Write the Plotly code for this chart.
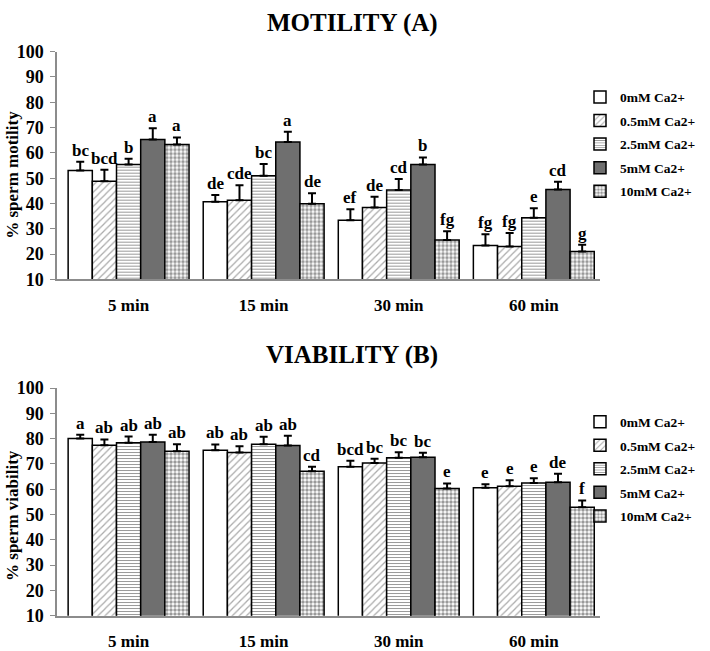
import plotly.graph_objects as go

times = ["5 min", "15 min", "30 min", "60 min"]
groups = ["0mM Ca2+", "0.5mM Ca2+", "2.5mM Ca2+", "5mM Ca2+", "10mM Ca2+"]

# Motility (A): rows = Ca2+ level, columns = time
mot_vals = [
    [53.1, 40.7, 33.4, 23.4],
    [48.8, 41.3, 38.4, 23.0],
    [55.4, 51.0, 45.3, 34.4],
    [65.3, 64.3, 55.4, 45.5],
    [63.3, 39.9, 25.6, 21.0],
]
mot_err = [
    [3.4, 2.7, 4.3, 4.5],
    [4.5, 5.9, 4.3, 5.4],
    [2.3, 4.6, 4.4, 3.7],
    [4.4, 4.1, 2.8, 3.1],
    [2.8, 4.2, 3.4, 2.7],
]
mot_letters = [
    ["bc", "de", "ef", "fg"],
    ["bcd", "cde", "de", "fg"],
    ["b", "bc", "cd", "e"],
    ["a", "a", "b", "cd"],
    ["a", "de", "fg", "g"],
]

# Viability (B)
via_vals = [
    [80.1, 75.4, 68.9, 60.6],
    [77.4, 74.5, 70.4, 61.2],
    [78.4, 77.8, 72.4, 62.5],
    [78.7, 77.3, 72.6, 62.8],
    [75.0, 67.1, 60.3, 52.9],
]
via_err = [
    [1.4, 2.3, 2.4, 1.4],
    [2.3, 2.5, 1.7, 2.4],
    [2.4, 2.9, 2.2, 1.8],
    [2.8, 3.8, 1.8, 3.3],
    [2.8, 1.8, 2.0, 2.7],
]
via_letters = [
    ["a", "ab", "bcd", "e"],
    ["ab", "ab", "bc", "e"],
    ["ab", "ab", "bc", "e"],
    ["ab", "ab", "bc", "de"],
    ["ab", "cd", "e", "f"],
]

y_ticks = [10, 20, 30, 40, 50, 60, 70, 80, 90, 100]

FONT = "Liberation Serif"
fills = ["white", "white", "white", "#6f6f6f", "white"]
patterns = [
    dict(shape=""),
    dict(shape="/", fgcolor="#555555", bgcolor="white", size=5, solidity=0.25),
    dict(shape="-", fgcolor="#333333", bgcolor="white", size=3, solidity=0.35),
    dict(shape=""),
    dict(shape=".", fgcolor="#333333", bgcolor="white", size=4, solidity=0.6),
]

W, H = 710, 651
bargap = 0.105
bw = (1 - bargap) / len(groups)


def px_x(p):
    return p / W


def px_y(p):
    return 1 - p / H


fig = go.Figure()
xs = list(range(len(times)))

panels = [
    (mot_vals, mot_err, mot_letters, "x", "y", "legend", "A"),
    (via_vals, via_err, via_letters, "x2", "y2", "legend2", "B"),
]
for vals, errs, letters, xa, ya, lg, tag in panels:
    for i, g in enumerate(groups):
        fig.add_trace(go.Bar(
            x=xs, y=vals[i], name=g, xaxis=xa, yaxis=ya, legend=lg,
            legendgroup=f"{tag}{i}",
            marker=dict(color=fills[i], pattern=patterns[i],
                        line=dict(color="black", width=1.5)),
            error_y=dict(type="data", array=errs[i], arrayminus=[0] * len(xs),
                         symmetric=False, color="black", thickness=2, width=4),
            width=bw,
        ))
        for j in xs:
            fig.add_annotation(
                x=j + (i - 2) * bw, y=vals[i][j] + errs[i][j], xref=xa, yref=ya,
                text=letters[i][j], showarrow=False, yanchor="bottom", yshift=0,
                font=dict(family=FONT, size=17, color="black", weight="bold"),
            )

axis_common = dict(
    showgrid=False, zeroline=False, showline=True, linecolor="#8c8c8c", linewidth=1.5,
)
xax = dict(axis_common, tickmode="array", tickvals=xs, ticktext=times,
           range=[-0.53, 3.49], ticks="", ticklen=0, ticklabelstandoff=9,
           tickfont=dict(family=FONT, size=17, color="black", weight="bold"),
           domain=[px_x(57), px_x(600)])
yax = dict(axis_common, range=[10, 100], tickvals=y_ticks, ticks="outside",
           ticklen=5, tickcolor="#8c8c8c", tickwidth=1, ticklabelstandoff=3,
           tickfont=dict(family=FONT, size=18, color="black", weight="bold"))

legend_font = dict(family=FONT, size=13.5, color="black", weight="bold")
legend_common = dict(xanchor="left", yanchor="top", font=legend_font,
                     bgcolor="rgba(0,0,0,0)", itemwidth=30, traceorder="grouped",
                     tracegroupgap=3)
fig.update_layout(
    width=W, height=H, margin=dict(l=0, r=0, t=0, b=0),
    paper_bgcolor="white", plot_bgcolor="white",
    barmode="group", bargap=bargap, bargroupgap=0,
    showlegend=True,
    xaxis=dict(xax, anchor="y"),
    yaxis=dict(yax, anchor="x", domain=[px_y(278), px_y(43)]),
    xaxis2=dict(xax, anchor="y2"),
    yaxis2=dict(yax, anchor="x2", domain=[px_y(625), px_y(390)]),
    legend=dict(legend_common, x=px_x(580), y=px_y(74)),
    legend2=dict(legend_common, x=px_x(580), y=px_y(409)),
)

# Panel titles and y-axis titles
for txt, yp in [("MOTILITY (A)", 13), ("VIABILITY (B)", 356)]:
    fig.add_annotation(text=txt, x=px_x(352), y=px_y(yp), xref="paper", yref="paper",
                       showarrow=False, xanchor="center", yanchor="middle",
                       font=dict(family=FONT, size=25, color="black", weight="bold"))
for txt, yp in [("% sperm motility", 170), ("% sperm viability", 522)]:
    fig.add_annotation(text=txt, x=px_x(13), y=px_y(yp), xref="paper", yref="paper",
                       showarrow=False, textangle=-90, xanchor="center", yanchor="middle",
                       font=dict(family=FONT, size=17, color="black", weight="bold"))

# remove the page's default body margin so the 710x651 figure fills the window
fig.write_html(
    "out.html",
    config={"displayModeBar": False},
    post_script="document.body.style.margin='0';document.body.style.overflow='hidden';",
)
